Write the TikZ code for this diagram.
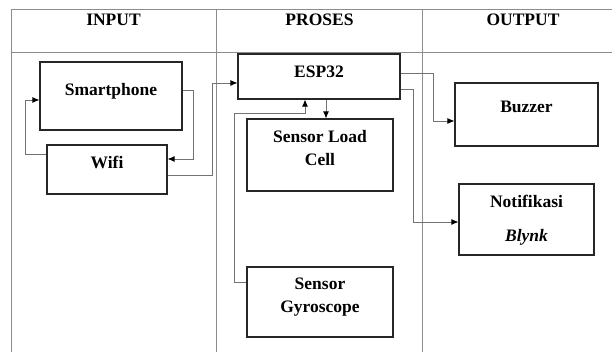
\documentclass[tikz,border=0pt]{standalone}
\usepackage{fontspec}
\setmainfont{Liberation Serif}
\usetikzlibrary{arrows.meta}
\begin{document}
\begin{tikzpicture}[x=1pt,y=-1pt,
  grid/.style={draw=black!45, line width=0.7pt},
  box/.style={draw=black!85, line width=1.2pt, inner sep=0pt, align=center,
    font=\fontsize{17.5}{23}\selectfont\bfseries},
  head/.style={inner sep=0pt, font=\fontsize{17.5}{23}\selectfont\bfseries},
  conn/.style={draw=black!55, line width=0.8pt, -{Latex[length=7pt,width=6pt,black]}}]
\useasboundingbox (0,0) rectangle (612,352);
% table
\draw[grid] (11,352) -- (11,9) -- (612,9);
\draw[grid] (11,52) -- (612,52);
\draw[grid] (216,9) -- (216,352);
\draw[grid] (422,9) -- (422,352);
\node[head] (hin) at (113.5,20) {INPUT};
\node[head] (hpr) at (319.5,20) {PROSES};
\node[head] (hout) at (523,20) {OUTPUT};
% boxes
\node[box, minimum width=142pt, minimum height=68pt, text height=11pt, text depth=12.4pt] (sp) at (111,96) {Smartphone};
\node[box, minimum width=120pt, minimum height=49pt, text height=11pt, text depth=13.4pt] (wf) at (107,169.5) {Wifi};
\node[box, minimum width=162pt, minimum height=45pt, text height=11pt, text depth=9.4pt] (esp) at (319,76.5) {ESP32};
\node[box, minimum width=146pt, minimum height=72pt, text height=22pt, text depth=1.4pt] (lc) at (320,155) {Sensor Load\\Cell};
\node[box, minimum width=146pt, minimum height=70pt, text height=22pt, text depth=1.4pt] (gy) at (320,302) {Sensor\\Gyroscope};
\node[box, minimum width=143pt, minimum height=63pt, text height=11pt, text depth=15.4pt] (bz) at (526.5,114.5) {Buzzer};
\node[box, minimum width=135pt, minimum height=71pt, text height=45pt, text depth=1.4pt] (nt) at (526.5,219.5) {Notifikasi\\[11pt]\textit{Blynk}};
% connectors
\draw[conn] ([yshift=6pt]sp.east) -- ++(11,0) |- ([yshift=10.5pt]wf.east);
\draw[conn] ([yshift=15.5pt]wf.west) -- ++(-21,0) |- ([yshift=-4pt]sp.west);
\draw[conn] ([yshift=-5.5pt]wf.east) -- ++(45,0) |- ([yshift=-6.5pt]esp.west);
\draw[conn] ([xshift=7pt]esp.south) -- ([xshift=6pt]lc.north);
\draw[conn] ([yshift=20pt]gy.west) -- ++(-12,0) -- ++(0,-169) -| ([xshift=-14pt]esp.south);
\draw[conn] ([yshift=3.5pt]esp.east) -- ++(33,0) |- ([yshift=-6.5pt]bz.west);
\draw[conn] ([yshift=-12.5pt]esp.east) -- ++(13,0) |- ([yshift=-2.5pt]nt.west);
\end{tikzpicture}
\end{document}
